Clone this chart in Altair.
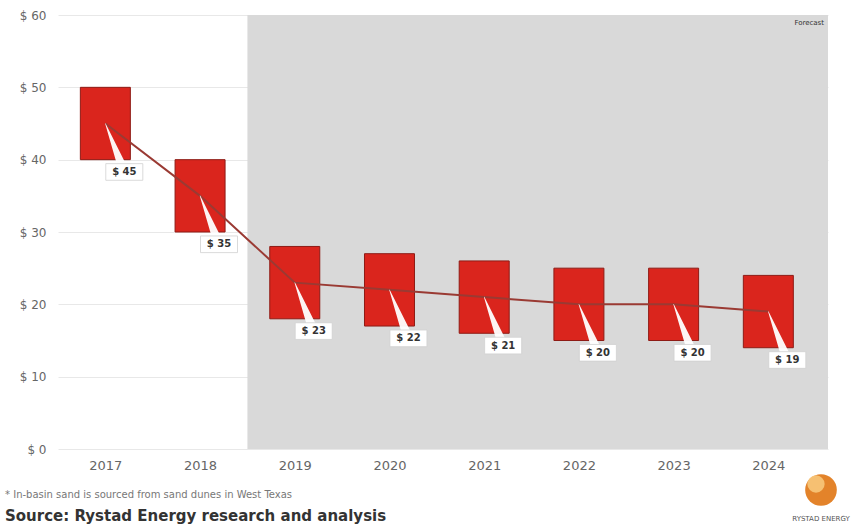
import altair as alt
import pandas as pd

# ---- data ----
years = [2017, 2018, 2019, 2020, 2021, 2022, 2023, 2024]
price_low = [40, 30, 18, 17, 16, 15, 15, 14]
price_high = [50, 40, 28, 27, 26, 25, 25, 24]
price_mid = [45, 35, 23, 22, 21, 20, 20, 19]
y_ticks = [0, 10, 20, 30, 40, 50, 60]
forecast_from = 2019
note_text = "* In-basin sand is sourced from sand dunes in West Texas"
source_text = "Source: Rystad Energy research and analysis"

# ---- layout constants ----
X_MIN, X_MAX = 2016.5, 2024.63
LABEL_DX, LABEL_DY = 0.2, 6.7

df = pd.DataFrame({"year": years, "low": price_low, "high": price_high, "mid": price_mid})
df["label"] = ["$ " + str(v) for v in price_mid]
df["lx"] = df["year"] + LABEL_DX
df["ly"] = df["mid"] - LABEL_DY

wedge_rows = []
for y, m in zip(years, price_mid):
    wedge_rows.append({"year": y, "x": y, "y": m, "w": 0.5, "o": 0})
    wedge_rows.append({"year": y, "x": y + LABEL_DX, "y": m - LABEL_DY, "w": 10, "o": 1})
wedge = pd.DataFrame(wedge_rows)

grey = pd.DataFrame({"x": [forecast_from - 0.5], "x2": [X_MAX], "y": [0], "y2": [60]})
one = pd.DataFrame({"a": [0]})

xs = alt.Scale(domain=[X_MIN, X_MAX], nice=False, zero=False, padding=0)
ys = alt.Scale(domain=[0, 60], nice=False, zero=True, padding=0)
xaxis = alt.Axis(values=years, format="d", grid=False, domain=False, ticks=False,
                 labelPadding=10, labelFontSize=13, labelColor="#666666",
                 labelFont="DejaVu Sans", title=None)
yaxis = alt.Axis(values=y_ticks, labelExpr="'$ ' + datum.value", grid=True,
                 gridColor="#E8E8E8", domain=False, ticks=False, labelPadding=12,
                 labelFontSize=12, labelColor="#666666", labelFont="DejaVu Sans", title=None)

bg = alt.Chart(grey).mark_rect(color="#D9D9D9").encode(
    x=alt.X("x:Q", scale=xs, axis=xaxis, title=None),
    x2="x2:Q",
    y=alt.Y("y:Q", scale=ys, axis=yaxis, title=None),
    y2="y2:Q",
)

forecast = alt.Chart(grey).mark_text(text="Forecast", align="right", baseline="top",
                                     dx=-4, dy=4, fontSize=7, color="#333333",
                                     font="DejaVu Sans").encode(
    x=alt.X("x2:Q", scale=xs, title=None), y=alt.Y("y2:Q", scale=ys, title=None))

bars = alt.Chart(df).mark_bar(size=50, color="#DA251D", stroke="#8E1B15", strokeWidth=1).encode(
    x=alt.X("year:Q", scale=xs, title=None),
    y=alt.Y("low:Q", scale=ys, title=None),
    y2="high:Q",
)

line = alt.Chart(df).mark_line(color="#9A3A33", strokeWidth=2).encode(
    x=alt.X("year:Q", scale=xs, title=None),
    y=alt.Y("mid:Q", scale=ys, title=None),
)

wedges = alt.Chart(wedge).mark_trail(color="#FFFFFF", opacity=0.95).encode(
    x=alt.X("x:Q", scale=xs, title=None),
    y=alt.Y("y:Q", scale=ys, title=None),
    size=alt.Size("w:Q", scale=None, legend=None),
    detail="year:N",
    order="o:Q",
)

boxes = alt.Chart(df).mark_point(shape="M-1,-0.45H1V0.45H-1Z", filled=True, fill="#FFFFFF",
                                 stroke="#D0D0D0", strokeWidth=0.8, opacity=1, size=1370).encode(
    x=alt.X("lx:Q", scale=xs, title=None),
    y=alt.Y("ly:Q", scale=ys, title=None),
)

labels = alt.Chart(df).mark_text(fontSize=10, fontWeight="bold", color="#333333",
                                 font="DejaVu Sans").encode(
    x=alt.X("lx:Q", scale=xs, title=None),
    y=alt.Y("ly:Q", scale=ys, title=None),
    text="label:N",
)

note = alt.Chart(one).mark_text(text=note_text, align="left", baseline="middle", fontSize=10,
                                color="#777777", font="DejaVu Sans").encode(
    x=alt.value(-53), y=alt.value(480))
source = alt.Chart(one).mark_text(text=source_text, align="left", baseline="middle", fontSize=15,
                                  fontWeight="bold", color="#333333", font="DejaVu Sans").encode(
    x=alt.value(-53), y=alt.value(501))
logo1 = alt.Chart(one).mark_point(shape="circle", filled=True, color="#E3832A", opacity=1,
                                  size=1000).encode(x=alt.value(763), y=alt.value(475))
logo2 = alt.Chart(one).mark_point(shape="circle", filled=True, color="#F7C77A", opacity=0.9,
                                  size=300).encode(x=alt.value(758), y=alt.value(469))
logo_text = alt.Chart(one).mark_text(text="RYSTAD ENERGY", align="center", baseline="middle",
                                     fontSize=7, color="#555555", font="DejaVu Sans").encode(
    x=alt.value(763), y=alt.value(504))

chart = alt.layer(bg, forecast, bars, line, wedges, boxes, labels, note, source,
                  logo1, logo2, logo_text).properties(
    width=770, height=434,
    padding={"left": 58, "top": 15, "right": 31, "bottom": 80},
    autosize=alt.AutoSizeParams(type="none"),
    background="#FFFFFF",
).configure_view(stroke=None)

chart.save("out.html", embed_options={"renderer": "svg", "actions": False})
